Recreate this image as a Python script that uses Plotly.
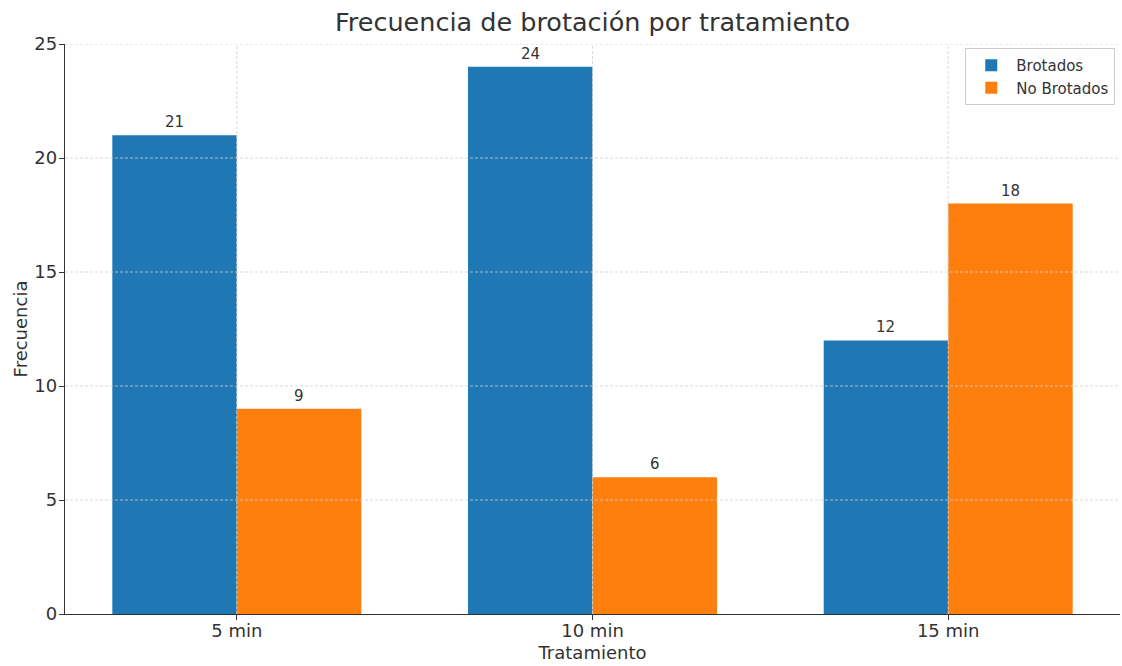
import plotly.graph_objects as go

tratamientos = ["5 min", "10 min", "15 min"]
brotados = [21, 24, 12]
no_brotados = [9, 6, 18]
y_ticks = [0, 5, 10, 15, 20, 25]

TXT = "#333333"
FONT = "DejaVu Sans"
GRID = dict(color="#cfcfcf", width=0.8, dash="3px,2px")

fig = go.Figure()
fig.add_trace(go.Bar(name="Brotados", x=tratamientos, y=brotados,
                     marker=dict(color="#1f77b4", line=dict(width=0)),
                     offsetgroup="a"))
fig.add_trace(go.Bar(name="No Brotados", x=tratamientos, y=no_brotados,
                     marker=dict(color="#ff7f0e", line=dict(width=0)),
                     offsetgroup="b"))

# value labels above each bar
for i, t in enumerate(tratamientos):
    for val, shift in ((brotados[i], -0.175), (no_brotados[i], 0.175)):
        fig.add_annotation(x=i + shift, y=val, text=str(val), showarrow=False,
                           xref="x", yref="y", yanchor="bottom", yshift=2,
                           font=dict(family=FONT, size=15, color=TXT))

# dashed grid drawn on top of the bars
for v in y_ticks[1:]:
    fig.add_shape(type="line", xref="paper", yref="y", x0=0, x1=1, y0=v, y1=v,
                  line=GRID, layer="above")
for i, _ in enumerate(tratamientos):
    fig.add_shape(type="line", xref="x", yref="paper", x0=i, x1=i, y0=0, y1=1,
                  line=GRID, layer="above")

fig.update_layout(
    width=1122, height=666,
    margin=dict(l=65, r=2, t=44, b=52),
    paper_bgcolor="white", plot_bgcolor="white",
    barmode="group", bargap=0.3, bargroupgap=0,
    font=dict(family=FONT, color=TXT),
    title=dict(text="Frecuencia de brotación por tratamiento",
               x=0.5, xref="paper", xanchor="center",
               y=1 - 22 / 666, yanchor="middle",
               font=dict(family=FONT, size=25.5, color=TXT)),
    legend=dict(x=0.9955, y=0.993, xanchor="right", yanchor="top",
                bgcolor="rgba(255,255,255,0.85)", bordercolor="#cccccc",
                borderwidth=1, font=dict(family=FONT, size=15, color=TXT),
                itemwidth=40, tracegroupgap=2),
    showlegend=True,
)

fig.update_xaxes(
    range=[-0.483, 2.483], showline=True, linecolor="#333333", linewidth=1.3,
    ticks="outside", ticklen=5, tickcolor="#333333", ticklabelstandoff=-5,
    tickfont=dict(family=FONT, size=18, color=TXT),
    showgrid=False, zeroline=False, layer="above traces",
    title=dict(text="Tratamiento", font=dict(family=FONT, size=18, color=TXT), standoff=6),
)
fig.update_yaxes(
    range=[0, 25], tickvals=y_ticks, showline=True,
    linecolor="#333333", linewidth=1.3,
    ticks="outside", ticklen=5, tickcolor="#333333", ticklabelstandoff=-2,
    tickfont=dict(family=FONT, size=18, color=TXT),
    showgrid=False, zeroline=False, layer="above traces",
    title=dict(text="Frecuencia", font=dict(family=FONT, size=18, color=TXT), standoff=2),
)

fig.write_html("out.html")
